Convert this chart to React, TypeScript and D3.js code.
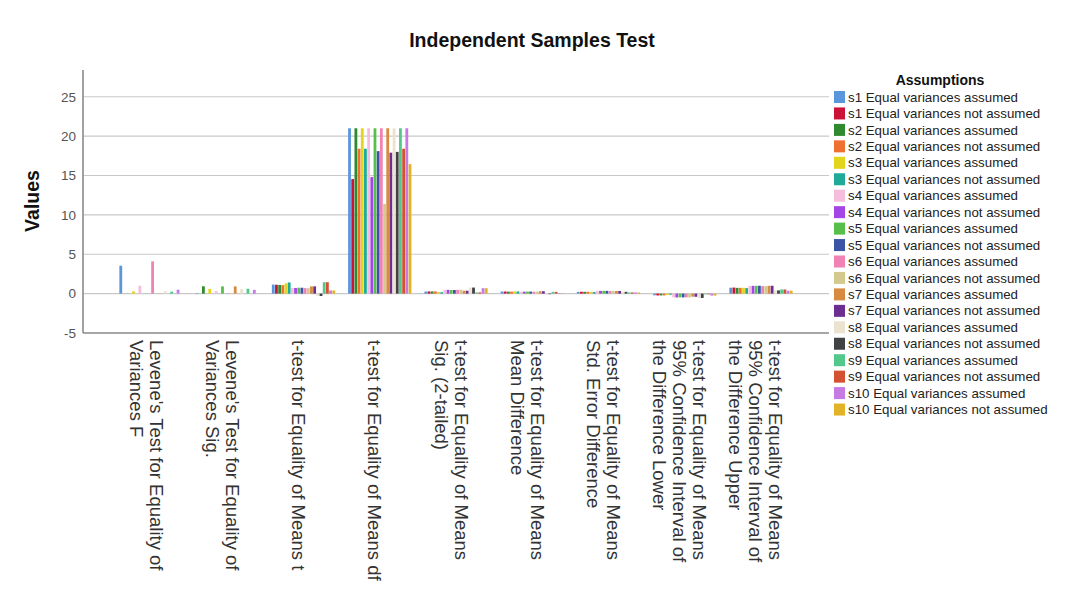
import { useEffect, useRef } from "react";
import * as d3 from "d3";

// category labels (one entry per line of the rotated label)
const categories: string[][] = [
  ["Levene's Test for Equality of", "Variances F"],
  ["Levene's Test for Equality of", "Variances Sig."],
  ["t-test for Equality of Means t"],
  ["t-test for Equality of Means df"],
  ["t-test for Equality of Means", "Sig. (2-tailed)"],
  ["t-test for Equality of Means", "Mean Difference"],
  ["t-test for Equality of Means", "Std. Error Difference"],
  ["t-test for Equality of Means", "95% Confidence Interval of", "the Difference Lower"],
  ["t-test for Equality of Means", "95% Confidence Interval of", "the Difference Upper"],
];

const seriesNames = [
  "s1 Equal variances assumed", "s1 Equal variances not assumed",
  "s2 Equal variances assumed", "s2 Equal variances not assumed",
  "s3 Equal variances assumed", "s3 Equal variances not assumed",
  "s4 Equal variances assumed", "s4 Equal variances not assumed",
  "s5 Equal variances assumed", "s5 Equal variances not assumed",
  "s6 Equal variances assumed", "s6 Equal variances not assumed",
  "s7 Equal variances assumed", "s7 Equal variances not assumed",
  "s8 Equal variances assumed", "s8 Equal variances not assumed",
  "s9 Equal variances assumed", "s9 Equal variances not assumed",
  "s10 Equal variances assumed", "s10 Equal variances not assumed",
];

const seriesColors = [
  "#5a96dc", "#cc1236", "#2f8a2f", "#f07030", "#e3d41c",
  "#1fab98", "#f5bedc", "#a446e6", "#58c04a", "#3b55a5",
  "#f082b4", "#d3c98e", "#d88a40", "#6c2e91", "#ebe3cf",
  "#404244", "#52c98a", "#d25232", "#c57ae4", "#e2b326",
];

// values per category, in series order (s1 assumed, s1 not assumed, ...)
const leveneF = [3.55, 0, 0.01, 0, 0.28, 0, 1.0, 0, 0.01, 0, 4.1, 0, 0.01, 0, 0.3, 0, 0.25, 0, 0.5, 0];
const leveneSig = [0.07, 0, 0.93, 0, 0.6, 0, 0.32, 0, 0.92, 0, 0.05, 0, 0.92, 0, 0.58, 0, 0.62, 0, 0.48, 0];
const tValues = [1.15, 1.13, 1.1, 1.08, 1.3, 1.42, 0.72, 0.72, 0.75, 0.75, 0.7, 0.7, 0.92, 0.92, -0.3, -0.3, 1.45, 1.45, 0.4, 0.4];
const dfValues = [21, 14.55, 21, 18.4, 21, 18.4, 21, 14.8, 21, 18.1, 21, 11.4, 21, 17.9, 21, 18.0, 21, 18.4, 21, 16.45];
const sigValues = [0.26, 0.28, 0.28, 0.29, 0.21, 0.18, 0.48, 0.48, 0.46, 0.46, 0.49, 0.5, 0.37, 0.37, 0.77, 0.77, 0.16, 0.16, 0.69, 0.69];
const meanDiff = [0.27, 0.27, 0.25, 0.25, 0.28, 0.28, 0.25, 0.25, 0.26, 0.26, 0.24, 0.24, 0.3, 0.3, -0.07, -0.07, 0.22, 0.22, 0.06, 0.06];
const seDiff = [0.23, 0.24, 0.23, 0.23, 0.22, 0.2, 0.35, 0.35, 0.35, 0.35, 0.34, 0.34, 0.33, 0.33, 0.23, 0.23, 0.15, 0.15, 0.15, 0.15];
const ciLower = [-0.21, -0.23, -0.23, -0.23, -0.18, -0.14, -0.48, -0.49, -0.47, -0.48, -0.47, -0.48, -0.39, -0.4, -0.55, -0.55, -0.09, -0.09, -0.25, -0.25];
const ciUpper = [0.75, 0.77, 0.73, 0.73, 0.74, 0.7, 0.98, 0.99, 0.99, 1.0, 0.95, 0.96, 0.99, 1.0, 0.41, 0.41, 0.53, 0.53, 0.37, 0.37];

const yTicks = [-5, 0, 5, 10, 15, 20, 25];

const FONT = "Arial, 'Liberation Sans', sans-serif";

export default function App() {
  const svgRef = useRef<SVGSVGElement>(null);

  useEffect(() => {
    if (!svgRef.current) return;
    const values = [leveneF, leveneSig, tValues, dfValues, sigValues, meanDiff, seDiff, ciLower, ciUpper];

    const width = 1069;
    const height = 598;
    const plot = { left: 83, right: 829, top: 70, bottom: 333 };

    const svg = d3.select(svgRef.current).attr("width", width).attr("height", height);
    svg.selectAll("*").remove();

    svg.append("rect").attr("width", width).attr("height", height).attr("fill", "#fff");

    const y = d3.scaleLinear().domain([-5, 28.4]).range([plot.bottom, plot.top]);
    const x0 = d3
      .scaleBand<number>()
      .domain(d3.range(categories.length))
      .range([plot.left, plot.right])
      .paddingInner(0.17)
      .paddingOuter(0.477);
    const x1 = d3
      .scaleBand<number>()
      .domain(d3.range(seriesNames.length))
      .range([0, x0.bandwidth()])
      .paddingInner(0.12);

    // Title
    svg.append("text")
      .attr("x", 532)
      .attr("y", 47)
      .attr("text-anchor", "middle")
      .style("font-family", FONT)
      .style("font-size", "19.5px")
      .style("font-weight", "bold")
      .attr("fill", "#111")
      .text("Independent Samples Test");

    // Gridlines
    svg.append("g")
      .selectAll("line")
      .data(yTicks.filter((t) => t !== -5))
      .join("line")
      .attr("x1", plot.left)
      .attr("x2", plot.right)
      .attr("y1", (d) => y(d))
      .attr("y2", (d) => y(d))
      .attr("stroke", "#c9c9c9")
      .attr("stroke-width", 1.2);

    // Y tick labels
    svg.append("g")
      .selectAll("text")
      .data(yTicks)
      .join("text")
      .attr("x", 76)
      .attr("y", (d) => y(d))
      .attr("dy", "0.36em")
      .attr("text-anchor", "end")
      .style("font-family", FONT)
      .style("font-size", "13.5px")
      .attr("fill", "#555")
      .text((d) => String(d));

    // Y axis title
    svg.append("text")
      .attr("transform", "translate(39,201) rotate(-90)")
      .attr("text-anchor", "middle")
      .style("font-family", FONT)
      .style("font-size", "19.5px")
      .style("font-weight", "bold")
      .attr("fill", "#111")
      .text("Values");

    // Bars
    const groups = svg.append("g")
      .selectAll("g")
      .data(values)
      .join("g")
      .attr("transform", (_, i) => `translate(${x0(i)},0)`);

    groups.selectAll("rect")
      .data((d) => d.map((v, s) => ({ v, s })).filter((e) => e.v !== 0))
      .join("rect")
      .attr("x", (d) => x1(d.s) ?? 0)
      .attr("width", x1.bandwidth())
      .attr("y", (d) => y(Math.max(0, d.v)))
      .attr("height", (d) => Math.abs(y(d.v) - y(0)))
      .attr("fill", (d) => seriesColors[d.s]);

    // Axis lines
    svg.append("line")
      .attr("x1", plot.left).attr("x2", plot.left)
      .attr("y1", plot.top).attr("y2", plot.bottom)
      .attr("stroke", "#8a8a8a").attr("stroke-width", 1.6);
    svg.append("line")
      .attr("x1", plot.left).attr("x2", plot.right)
      .attr("y1", plot.bottom).attr("y2", plot.bottom)
      .attr("stroke", "#8a8a8a").attr("stroke-width", 1.6);

    // Category labels, rotated to read top-down
    const lineGap = 20;
    categories.forEach((lines, i) => {
      const c = (x0(i) ?? 0) + x0.bandwidth() / 2;
      const n = lines.length;
      lines.forEach((line, k) => {
        const bx = c - 11.5 + ((n - 1) / 2 - k) * lineGap;
        svg.append("text")
          .attr("transform", `translate(${bx},340) rotate(90)`)
          .style("font-family", FONT)
          .style("font-size", "18.5px")
          .attr("fill", "#333")
          .text(line);
      });
    });

    // Legend
    const legend = svg.append("g");
    legend.append("text")
      .attr("x", 940)
      .attr("y", 85)
      .attr("text-anchor", "middle")
      .style("font-family", FONT)
      .style("font-size", "14px")
      .style("font-weight", "bold")
      .attr("fill", "#111")
      .text("Assumptions");

    const rows = legend.selectAll("g")
      .data(seriesNames)
      .join("g")
      .attr("transform", (_, i) => `translate(0,${97 + i * 16.45})`);
    rows.append("rect")
      .attr("x", 834)
      .attr("y", -6)
      .attr("width", 11)
      .attr("height", 12)
      .attr("fill", (_, i) => seriesColors[i]);
    rows.append("text")
      .attr("x", 848)
      .attr("y", 4.6)
      .style("font-family", FONT)
      .style("font-size", "13.3px")
      .attr("fill", "#222")
      .text((d) => d);
  }, []);

  return (
    <div style={{ position: "absolute", left: 0, top: 0 }}>
      <svg ref={svgRef} style={{ display: "block" }} />
    </div>
  );
}
